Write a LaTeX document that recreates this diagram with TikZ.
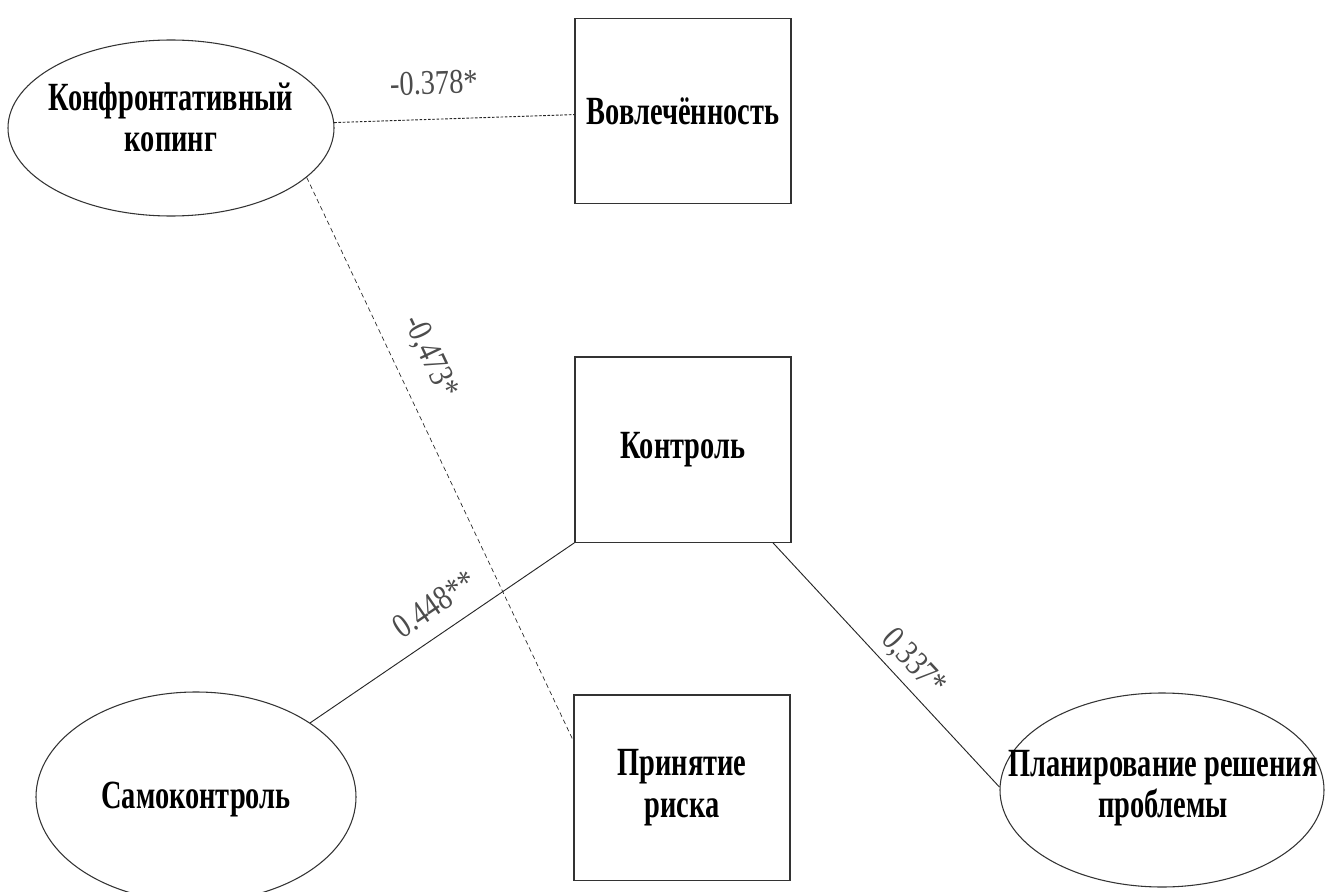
\documentclass[tikz,border=0pt]{standalone}
\usepackage{fontspec}
\setmainfont{Liberation Serif}
\newfontfamily\namefont[FakeStretch=0.71]{Liberation Serif}
\newfontfamily\coeffont[FakeStretch=0.82]{Liberation Serif}
\usetikzlibrary{shapes.geometric}

\tikzstyle{every node}=[inner sep=0pt]
\tikzstyle{copingell}=[ellipse, draw=black!80, line width=0.8pt]
\tikzstyle{nametext}=[align=center, font={\namefont\bfseries\fontsize{30}{31}\selectfont}]
\tikzstyle{subscale}=[nametext, rectangle, draw=black!80, line width=1pt, minimum width=162pt, minimum height=139pt]
\tikzstyle{coef}=[sloped, font={\coeffont\fontsize{26}{28}\selectfont}, text=black!70]
\tikzstyle{link}=[line width=0.7pt, draw=black!85]
\tikzstyle{dotlink}=[link, dash pattern=on 2pt off 1.2pt]
\tikzstyle{dashlink}=[link, line width=0.5pt, dash pattern=on 3.5pt off 2.5pt]

\begin{document}
\begin{tikzpicture}[x=0.75pt, y=-0.75pt]
    \useasboundingbox (0,0) rectangle (1325,892);

    % coping strategies
    \node [copingell, minimum width=244.5pt, minimum height=132pt] (konf) at (171,128) {};
    \node [nametext] (konftext) at (171,117) {Конфронтативный\\копинг};
    \node [copingell, minimum width=240pt, minimum height=157.5pt] (samo) at (196,797) {};
    \node [nametext] (samotext) at (196,800) {Самоконтроль};
    \node [copingell, minimum width=243pt, minimum height=145.5pt] (plan) at (1162,790) {};
    \node [nametext] (plantext) at (1163,788) {Планирование решения\\проблемы};

    % hardiness scales
    \node [subscale] (vovl) at (683,111) {Вовлечённость};
    \node [subscale] (kontr) at (683,449.5) {Контроль};
    \node [subscale] (prin) at (682,787.5) {Принятие\\риска};

    \draw [dotlink] (konf) -- node [coef, pos=0.42, above=18pt] {-0.378*} (vovl);
    \draw [dashlink] (konf.-20) -- node [coef, pos=0.345, above=15pt] {-0,473*} ([yshift=35pt]prin.west);
    \draw [link] (samo.33) -- node [coef, pos=0.53, above=12pt] {0.448**} (kontr.south west);
    \draw [link] ([xshift=-14pt]kontr.south east) -- node [coef, pos=0.55, above=5pt] {0,337*} (plan.179);
\end{tikzpicture}
\end{document}
